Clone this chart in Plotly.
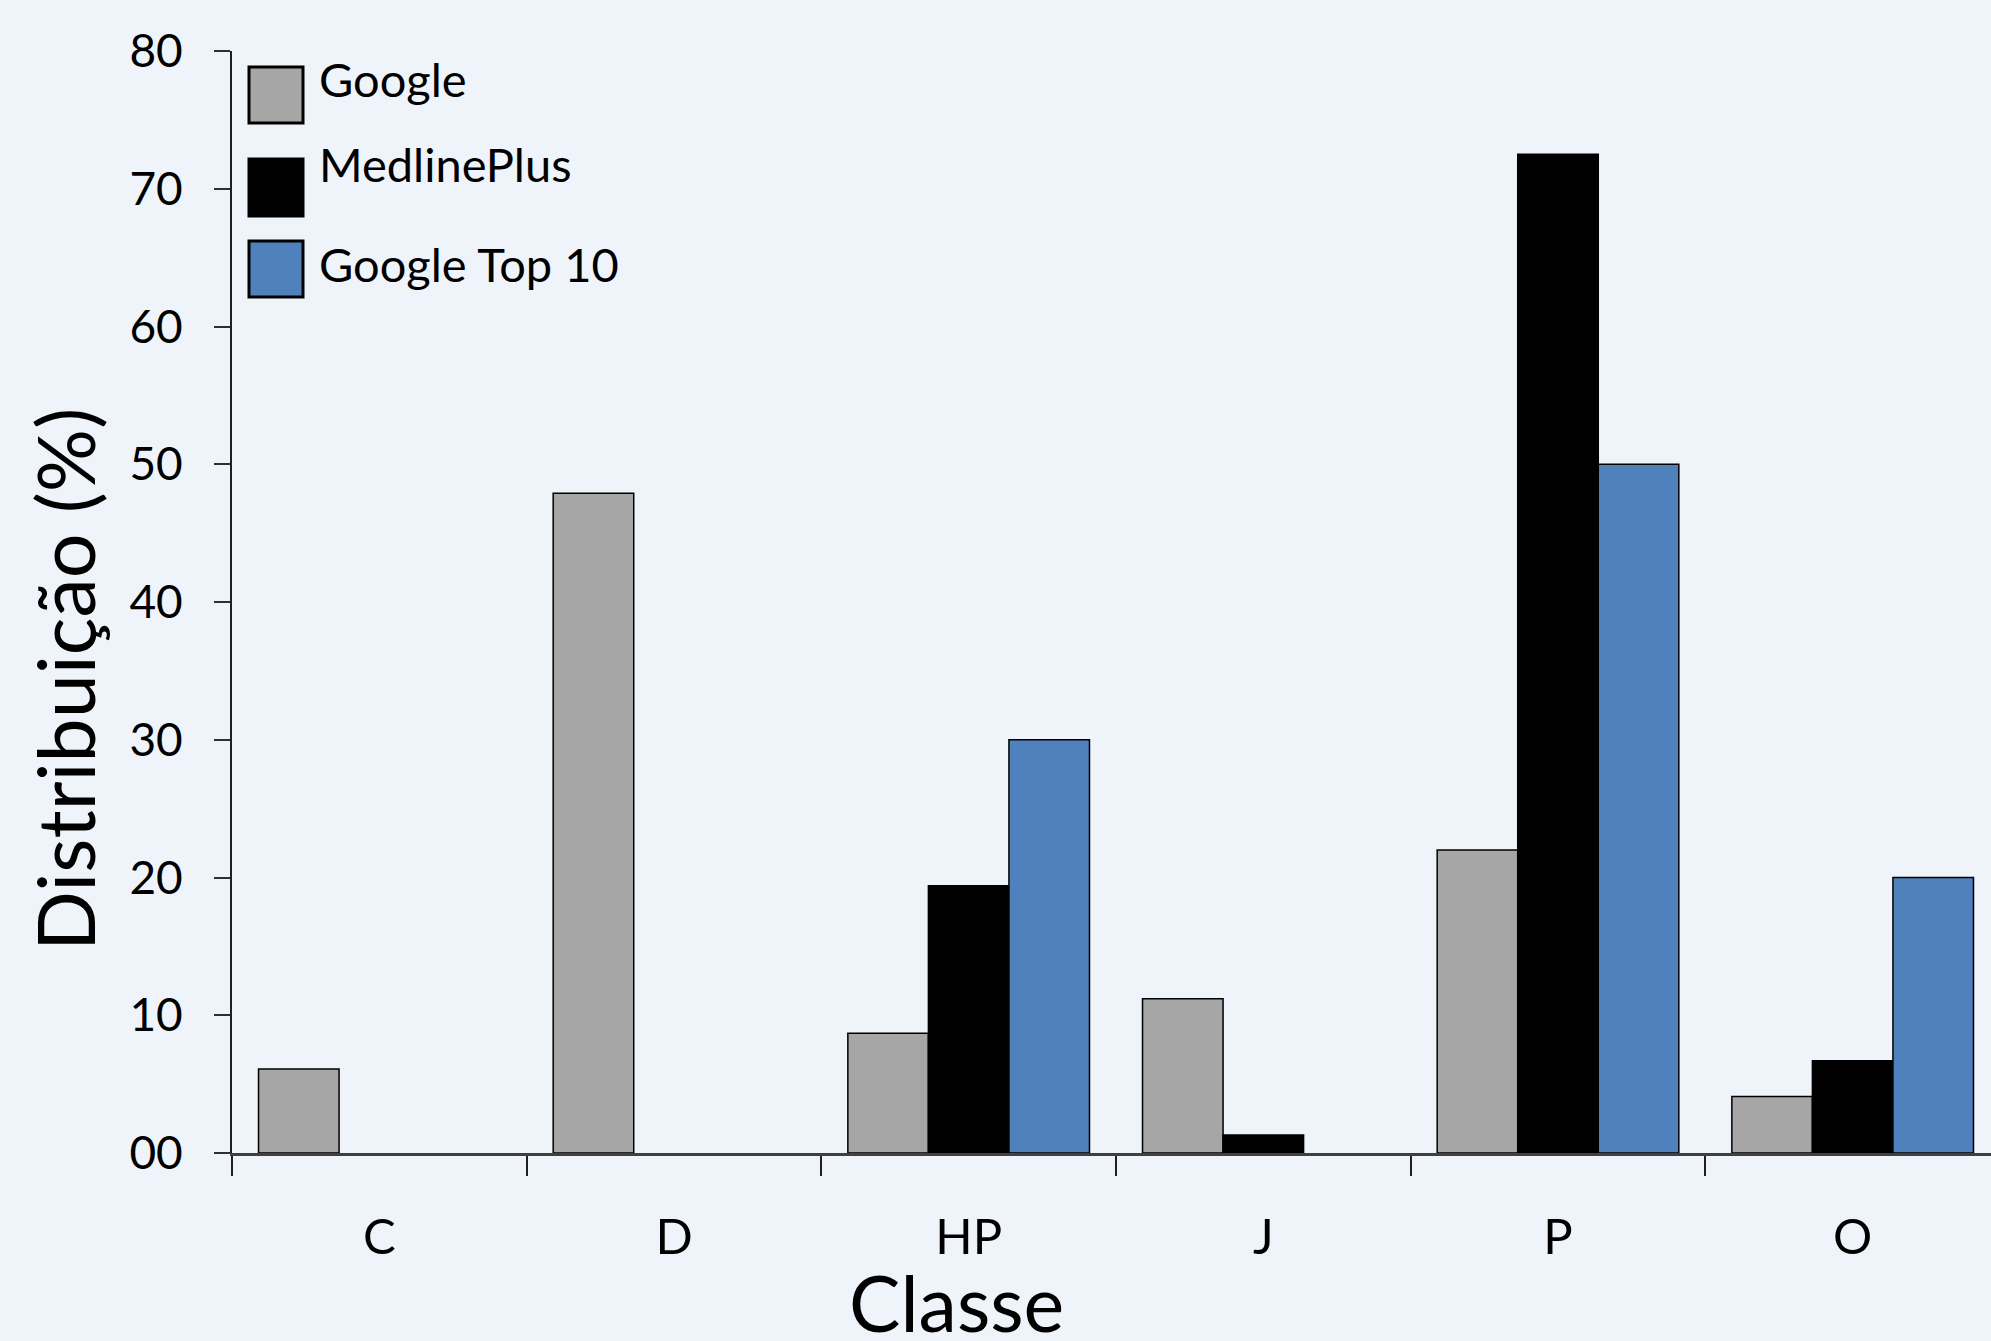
import plotly.graph_objects as go

categories = ["C", "D", "HP", "J", "P", "O"]
google = [6.1, 47.9, 8.7, 11.2, 22.0, 4.1]
medlineplus = [0, 0, 19.4, 1.3, 72.5, 6.7]
google_top10 = [0, 0, 30.0, 0, 50.0, 20.0]
series_names = ["Google", "MedlinePlus", "Google Top 10"]
series_colors = ["#A6A6A6", "#000000", "#4F81BD"]
y_ticks = [0, 10, 20, 30, 40, 50, 60, 70, 80]
y_ticktext = ["00", "10", "20", "30", "40", "50", "60", "70", "80"]

W, H = 1991, 1341
ML, MR, MT, MB = 232, 0, 51, 188
PW, PH = W - ML - MR, H - MT - MB
FONT = "Lato"
BG = "#EFF4FB"

def px(xp):
    return (xp - ML) / PW

def py(yp):
    return (H - MB - yp) / PH

fig = go.Figure()
for name, vals, col in zip(series_names, [google, medlineplus, google_top10], series_colors):
    widths = [1.5 if v > 0 else 0 for v in vals]
    fig.add_trace(go.Bar(x=categories, y=vals, name=name,
                         marker=dict(color=col, line=dict(color="#000000", width=widths)),
                         showlegend=False))

# right edge of axis slightly beyond the canvas, as in the reference
xmax = 5.5 - 9 * 6.0 / (PW + 9)

fig.update_layout(
    width=W, height=H,
    margin=dict(l=ML, r=MR, t=MT, b=MB, pad=0),
    paper_bgcolor=BG, plot_bgcolor=BG,
    barmode="group", bargap=0.18, bargroupgap=0,
    font=dict(family=FONT, color="#000000", size=46),
    xaxis=dict(type="category", range=[-0.5, xmax], showline=True, linecolor="#404040", linewidth=2.5,
               ticks="outside", tickson="boundaries", ticklen=20, tickwidth=2, tickcolor="#202020",
               showgrid=False, zeroline=False, tickfont=dict(size=49, family=FONT), ticklabelstandoff=39),
    yaxis=dict(range=[0, 80], tickvals=y_ticks, ticktext=y_ticktext, showline=True, linecolor="#202020", linewidth=2,
               ticks="outside", ticklen=16, tickwidth=2, tickcolor="#303030",
               showgrid=False, zeroline=False, tickfont=dict(size=46, family=FONT), ticklabelstandoff=22),
)

# axis titles
fig.add_annotation(text="Distribuição (%)", xref="paper", yref="paper", x=px(64), y=py(680),
                   xanchor="center", yanchor="middle", textangle=-90, showarrow=False,
                   font=dict(size=79, family=FONT, color="#000000"))
fig.add_annotation(text="Classe", xref="paper", yref="paper", x=px(956), y=py(1302),
                   xanchor="center", yanchor="middle", showarrow=False,
                   font=dict(size=77, family=FONT, color="#000000"))

# legend drawn manually (large swatches)
legend_boxes = [(67, 123), (159, 216), (241, 297)]
legend_text_y = [79, 164, 264]
for (y0, y1), ty, name, col in zip(legend_boxes, legend_text_y, series_names, series_colors):
    fig.add_shape(type="rect", xref="paper", yref="paper", x0=px(249), x1=px(303), y0=py(y1), y1=py(y0),
                  fillcolor=col, line=dict(color="#000000", width=3))
    fig.add_annotation(text=name, xref="paper", yref="paper", x=px(317), y=py(ty),
                       xanchor="left", yanchor="middle", showarrow=False,
                       font=dict(size=47, family=FONT, color="#000000"))

fig.write_html("out.html", config={"displayModeBar": False},
               post_script="document.body.style.margin='0';document.body.style.padding='0';"
                           "document.body.style.overflow='hidden';document.body.style.background='" + BG + "';")
